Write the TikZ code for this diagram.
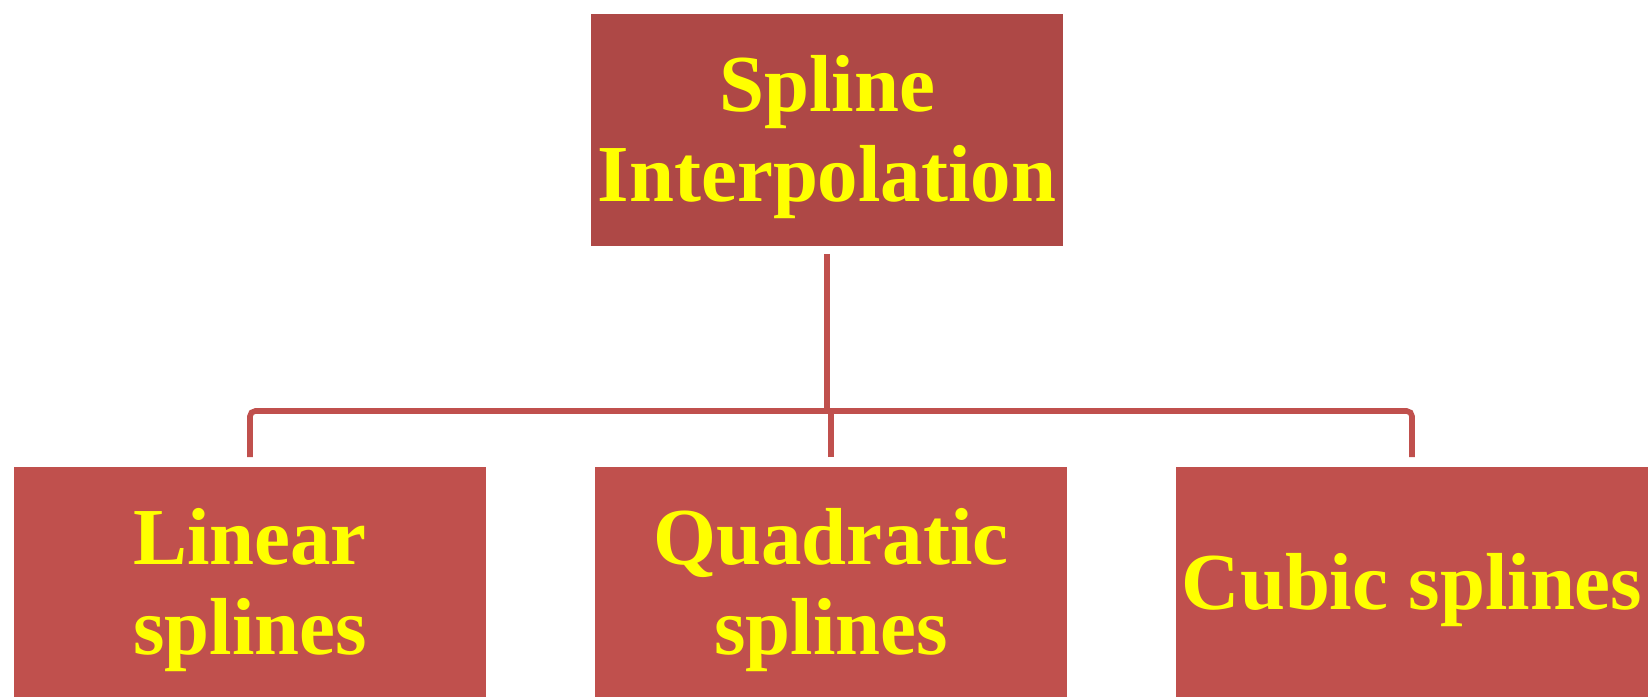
\documentclass[tikz,border=0pt]{standalone}
\usepackage{fontspec}
\setmainfont{Liberation Serif}
\definecolor{boxtop}{RGB}{174,72,70}
\definecolor{boxred}{RGB}{192,80,77}
\definecolor{txtyel}{RGB}{255,255,0}
% lower a line of text without changing its box
\newcommand\lowtxt[1]{\raisebox{-0.07cm}[\height][\depth]{#1}}
\tikzset{
  splbox/.style={fill=boxred, draw=white, line width=0.4pt, minimum width=4.74cm,
    minimum height=2.34cm, align=center, inner sep=0pt, text=txtyel,
    font=\fontsize{23}{25.5}\selectfont\bfseries},
  link/.style={draw=boxred, line width=1.6pt, rounded corners=1.5pt}
}
\begin{document}
\begin{tikzpicture}[x=0.01cm,y=-0.01cm]
\useasboundingbox (0,0) rectangle (1652,696);
\clip (0,0) rectangle (1652,696);
\node[splbox, fill=boxtop] (spl) at (827,130) {\lowtxt{Spline}\\\lowtxt{Interpolation}};
\node[splbox] (lin) at (250,583) {\lowtxt{Linear}\\\lowtxt{splines}};
\node[splbox] (quad) at (831,583) {\lowtxt{Quadratic}\\\lowtxt{splines}};
\node[splbox] (cub) at (1412,583) {\lowtxt{Cubic splines}};
\coordinate (bus) at (827,411);
\draw[link] ([yshift=-0.06cm]spl.south) -- (bus);
\draw[link] ([yshift=0.08cm]lin.north) |- (bus) -| ([yshift=0.08cm]cub.north);
\draw[link] ([yshift=0.08cm]quad.north) -- (quad.north |- bus);
\end{tikzpicture}
\end{document}
